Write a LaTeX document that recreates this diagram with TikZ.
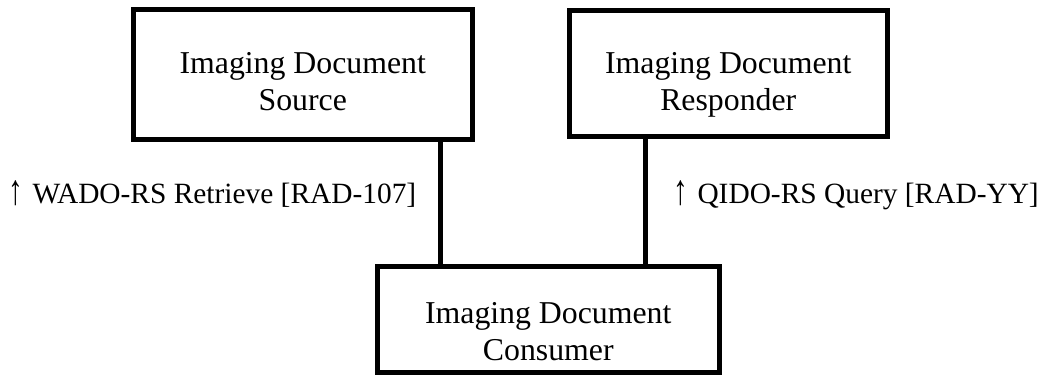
\documentclass[tikz,border=0pt]{standalone}
\usepackage{fontspec}
\setmainfont{Liberation Serif}
\newcommand{\uparr}{\raisebox{-0.5pt}{\scalebox{1.0}[1.45]{↑}}\hspace{0.32em}}
\begin{document}
\begin{tikzpicture}[x=0.5pt,y=-0.5pt,
  actor/.style={draw=black, line width=2.5pt, fill=white, inner sep=0pt,
    align=center, font=\fontsize{15.9pt}{18.5pt}\selectfont},
  conn/.style={draw=black, line width=2.5pt},
  lbl/.style={inner sep=0pt, anchor=base west, font=\fontsize{14.7pt}{17pt}\selectfont}]
\useasboundingbox (0,0) rectangle (1040,375);
\node[actor, minimum width=169.75pt, minimum height=65pt] (src) at (302.75,74)
  {\rule{0pt}{22.5pt}Imaging Document\\Source\rule[-5pt]{0pt}{5pt}};
\node[actor, minimum width=159.25pt, minimum height=62.75pt] (resp) at (728.25,73.25)
  {\rule{0pt}{23.55pt}Imaging Document\\Responder\rule[-5pt]{0pt}{5pt}};
\node[actor, minimum width=170.75pt, minimum height=52.75pt] (cons) at (548.25,319.25)
  {\rule{0pt}{27.55pt}Imaging Document\\Consumer\rule[-5pt]{0pt}{5pt}};
\coordinate (x1) at (440,0);
\coordinate (x2) at (645,0);
\draw[conn] (src.south -| x1) -- (cons.north -| x1);
\draw[conn] (resp.south -| x2) -- (cons.north -| x2);
\node[lbl] (wado) at (8,203) {\uparr WADO-RS Retrieve [RAD-107]};
\node[lbl] (qido) at (673,203) {\uparr QIDO-RS Query [RAD-YY]};
\end{tikzpicture}
\end{document}
